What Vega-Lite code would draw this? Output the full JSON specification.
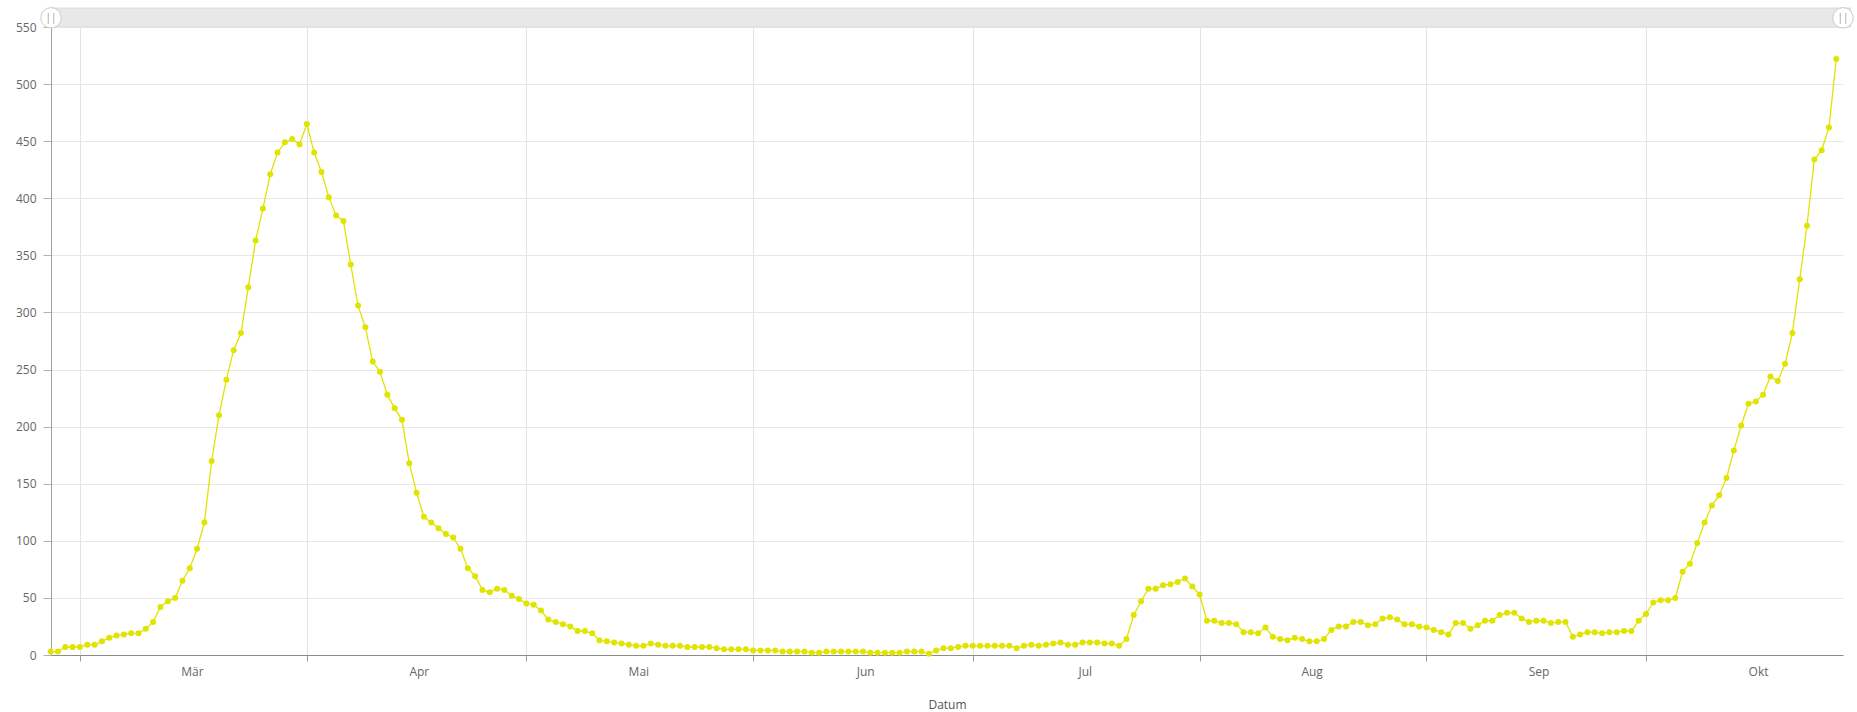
{
  "$schema": "https://vega.github.io/schema/vega-lite/v6.json",
  "autosize": "none",
  "padding": {"left": 51, "top": 27, "right": 14, "bottom": 57},
  "width": 1792,
  "height": 628,
  "background": "#ffffff",
  "config": {
    "view": {"stroke": null},
    "font": "Open Sans",
    "axis": {
      "labelFont": "Open Sans",
      "labelFontSize": 12,
      "labelColor": "#666666",
      "titleFont": "Open Sans",
      "titleFontSize": 12,
      "titleFontWeight": "normal",
      "titleColor": "#555555",
      "gridColor": "#e6e6e6",
      "gridWidth": 1
    }
  },
  "data": {
    "values": [
      {"Datum": "2020-02-26", "Wert": 3}, {"Datum": "2020-02-27", "Wert": 3}, {"Datum": "2020-02-28", "Wert": 7}, {"Datum": "2020-02-29", "Wert": 7},
      {"Datum": "2020-03-01", "Wert": 7}, {"Datum": "2020-03-02", "Wert": 9}, {"Datum": "2020-03-03", "Wert": 9}, {"Datum": "2020-03-04", "Wert": 12},
      {"Datum": "2020-03-05", "Wert": 15}, {"Datum": "2020-03-06", "Wert": 17}, {"Datum": "2020-03-07", "Wert": 18}, {"Datum": "2020-03-08", "Wert": 19},
      {"Datum": "2020-03-09", "Wert": 19}, {"Datum": "2020-03-10", "Wert": 23}, {"Datum": "2020-03-11", "Wert": 29}, {"Datum": "2020-03-12", "Wert": 42},
      {"Datum": "2020-03-13", "Wert": 47}, {"Datum": "2020-03-14", "Wert": 50}, {"Datum": "2020-03-15", "Wert": 65}, {"Datum": "2020-03-16", "Wert": 76},
      {"Datum": "2020-03-17", "Wert": 93}, {"Datum": "2020-03-18", "Wert": 116}, {"Datum": "2020-03-19", "Wert": 170}, {"Datum": "2020-03-20", "Wert": 210},
      {"Datum": "2020-03-21", "Wert": 241}, {"Datum": "2020-03-22", "Wert": 267}, {"Datum": "2020-03-23", "Wert": 282}, {"Datum": "2020-03-24", "Wert": 322},
      {"Datum": "2020-03-25", "Wert": 363}, {"Datum": "2020-03-26", "Wert": 391}, {"Datum": "2020-03-27", "Wert": 421}, {"Datum": "2020-03-28", "Wert": 440},
      {"Datum": "2020-03-29", "Wert": 449}, {"Datum": "2020-03-30", "Wert": 452}, {"Datum": "2020-03-31", "Wert": 447}, {"Datum": "2020-04-01", "Wert": 465},
      {"Datum": "2020-04-02", "Wert": 440}, {"Datum": "2020-04-03", "Wert": 423}, {"Datum": "2020-04-04", "Wert": 401}, {"Datum": "2020-04-05", "Wert": 385},
      {"Datum": "2020-04-06", "Wert": 380}, {"Datum": "2020-04-07", "Wert": 342}, {"Datum": "2020-04-08", "Wert": 306}, {"Datum": "2020-04-09", "Wert": 287},
      {"Datum": "2020-04-10", "Wert": 257}, {"Datum": "2020-04-11", "Wert": 248}, {"Datum": "2020-04-12", "Wert": 228}, {"Datum": "2020-04-13", "Wert": 216},
      {"Datum": "2020-04-14", "Wert": 206}, {"Datum": "2020-04-15", "Wert": 168}, {"Datum": "2020-04-16", "Wert": 142}, {"Datum": "2020-04-17", "Wert": 121},
      {"Datum": "2020-04-18", "Wert": 116}, {"Datum": "2020-04-19", "Wert": 111}, {"Datum": "2020-04-20", "Wert": 106}, {"Datum": "2020-04-21", "Wert": 103},
      {"Datum": "2020-04-22", "Wert": 93}, {"Datum": "2020-04-23", "Wert": 76}, {"Datum": "2020-04-24", "Wert": 69}, {"Datum": "2020-04-25", "Wert": 57},
      {"Datum": "2020-04-26", "Wert": 55}, {"Datum": "2020-04-27", "Wert": 58}, {"Datum": "2020-04-28", "Wert": 57}, {"Datum": "2020-04-29", "Wert": 52},
      {"Datum": "2020-04-30", "Wert": 49}, {"Datum": "2020-05-01", "Wert": 45}, {"Datum": "2020-05-02", "Wert": 44}, {"Datum": "2020-05-03", "Wert": 39},
      {"Datum": "2020-05-04", "Wert": 31}, {"Datum": "2020-05-05", "Wert": 29}, {"Datum": "2020-05-06", "Wert": 27}, {"Datum": "2020-05-07", "Wert": 25},
      {"Datum": "2020-05-08", "Wert": 21}, {"Datum": "2020-05-09", "Wert": 21}, {"Datum": "2020-05-10", "Wert": 19}, {"Datum": "2020-05-11", "Wert": 13},
      {"Datum": "2020-05-12", "Wert": 12}, {"Datum": "2020-05-13", "Wert": 11}, {"Datum": "2020-05-14", "Wert": 10}, {"Datum": "2020-05-15", "Wert": 9},
      {"Datum": "2020-05-16", "Wert": 8}, {"Datum": "2020-05-17", "Wert": 8}, {"Datum": "2020-05-18", "Wert": 10}, {"Datum": "2020-05-19", "Wert": 9},
      {"Datum": "2020-05-20", "Wert": 8}, {"Datum": "2020-05-21", "Wert": 8}, {"Datum": "2020-05-22", "Wert": 8}, {"Datum": "2020-05-23", "Wert": 7},
      {"Datum": "2020-05-24", "Wert": 7}, {"Datum": "2020-05-25", "Wert": 7}, {"Datum": "2020-05-26", "Wert": 7}, {"Datum": "2020-05-27", "Wert": 6},
      {"Datum": "2020-05-28", "Wert": 5}, {"Datum": "2020-05-29", "Wert": 5}, {"Datum": "2020-05-30", "Wert": 5}, {"Datum": "2020-05-31", "Wert": 5},
      {"Datum": "2020-06-01", "Wert": 4}, {"Datum": "2020-06-02", "Wert": 4}, {"Datum": "2020-06-03", "Wert": 4}, {"Datum": "2020-06-04", "Wert": 4},
      {"Datum": "2020-06-05", "Wert": 3}, {"Datum": "2020-06-06", "Wert": 3}, {"Datum": "2020-06-07", "Wert": 3}, {"Datum": "2020-06-08", "Wert": 3},
      {"Datum": "2020-06-09", "Wert": 2}, {"Datum": "2020-06-10", "Wert": 2}, {"Datum": "2020-06-11", "Wert": 3}, {"Datum": "2020-06-12", "Wert": 3},
      {"Datum": "2020-06-13", "Wert": 3}, {"Datum": "2020-06-14", "Wert": 3}, {"Datum": "2020-06-15", "Wert": 3}, {"Datum": "2020-06-16", "Wert": 3},
      {"Datum": "2020-06-17", "Wert": 2}, {"Datum": "2020-06-18", "Wert": 2}, {"Datum": "2020-06-19", "Wert": 2}, {"Datum": "2020-06-20", "Wert": 2},
      {"Datum": "2020-06-21", "Wert": 2}, {"Datum": "2020-06-22", "Wert": 3}, {"Datum": "2020-06-23", "Wert": 3}, {"Datum": "2020-06-24", "Wert": 3},
      {"Datum": "2020-06-25", "Wert": 1}, {"Datum": "2020-06-26", "Wert": 4}, {"Datum": "2020-06-27", "Wert": 6}, {"Datum": "2020-06-28", "Wert": 6},
      {"Datum": "2020-06-29", "Wert": 7}, {"Datum": "2020-06-30", "Wert": 8}, {"Datum": "2020-07-01", "Wert": 8}, {"Datum": "2020-07-02", "Wert": 8},
      {"Datum": "2020-07-03", "Wert": 8}, {"Datum": "2020-07-04", "Wert": 8}, {"Datum": "2020-07-05", "Wert": 8}, {"Datum": "2020-07-06", "Wert": 8},
      {"Datum": "2020-07-07", "Wert": 6}, {"Datum": "2020-07-08", "Wert": 8}, {"Datum": "2020-07-09", "Wert": 9}, {"Datum": "2020-07-10", "Wert": 8},
      {"Datum": "2020-07-11", "Wert": 9}, {"Datum": "2020-07-12", "Wert": 10}, {"Datum": "2020-07-13", "Wert": 11}, {"Datum": "2020-07-14", "Wert": 9},
      {"Datum": "2020-07-15", "Wert": 9}, {"Datum": "2020-07-16", "Wert": 11}, {"Datum": "2020-07-17", "Wert": 11}, {"Datum": "2020-07-18", "Wert": 11},
      {"Datum": "2020-07-19", "Wert": 10}, {"Datum": "2020-07-20", "Wert": 10}, {"Datum": "2020-07-21", "Wert": 8}, {"Datum": "2020-07-22", "Wert": 14},
      {"Datum": "2020-07-23", "Wert": 35}, {"Datum": "2020-07-24", "Wert": 47}, {"Datum": "2020-07-25", "Wert": 58}, {"Datum": "2020-07-26", "Wert": 58},
      {"Datum": "2020-07-27", "Wert": 61}, {"Datum": "2020-07-28", "Wert": 62}, {"Datum": "2020-07-29", "Wert": 64}, {"Datum": "2020-07-30", "Wert": 67},
      {"Datum": "2020-07-31", "Wert": 60}, {"Datum": "2020-08-01", "Wert": 53}, {"Datum": "2020-08-02", "Wert": 30}, {"Datum": "2020-08-03", "Wert": 30},
      {"Datum": "2020-08-04", "Wert": 28}, {"Datum": "2020-08-05", "Wert": 28}, {"Datum": "2020-08-06", "Wert": 27}, {"Datum": "2020-08-07", "Wert": 20},
      {"Datum": "2020-08-08", "Wert": 20}, {"Datum": "2020-08-09", "Wert": 19}, {"Datum": "2020-08-10", "Wert": 24}, {"Datum": "2020-08-11", "Wert": 16},
      {"Datum": "2020-08-12", "Wert": 14}, {"Datum": "2020-08-13", "Wert": 13}, {"Datum": "2020-08-14", "Wert": 15}, {"Datum": "2020-08-15", "Wert": 14},
      {"Datum": "2020-08-16", "Wert": 12}, {"Datum": "2020-08-17", "Wert": 12}, {"Datum": "2020-08-18", "Wert": 14}, {"Datum": "2020-08-19", "Wert": 22},
      {"Datum": "2020-08-20", "Wert": 25}, {"Datum": "2020-08-21", "Wert": 25}, {"Datum": "2020-08-22", "Wert": 29}, {"Datum": "2020-08-23", "Wert": 29},
      {"Datum": "2020-08-24", "Wert": 26}, {"Datum": "2020-08-25", "Wert": 27}, {"Datum": "2020-08-26", "Wert": 32}, {"Datum": "2020-08-27", "Wert": 33},
      {"Datum": "2020-08-28", "Wert": 31}, {"Datum": "2020-08-29", "Wert": 27}, {"Datum": "2020-08-30", "Wert": 27}, {"Datum": "2020-08-31", "Wert": 25},
      {"Datum": "2020-09-01", "Wert": 24}, {"Datum": "2020-09-02", "Wert": 22}, {"Datum": "2020-09-03", "Wert": 20}, {"Datum": "2020-09-04", "Wert": 18},
      {"Datum": "2020-09-05", "Wert": 28}, {"Datum": "2020-09-06", "Wert": 28}, {"Datum": "2020-09-07", "Wert": 23}, {"Datum": "2020-09-08", "Wert": 26},
      {"Datum": "2020-09-09", "Wert": 30}, {"Datum": "2020-09-10", "Wert": 30}, {"Datum": "2020-09-11", "Wert": 35}, {"Datum": "2020-09-12", "Wert": 37},
      {"Datum": "2020-09-13", "Wert": 37}, {"Datum": "2020-09-14", "Wert": 32}, {"Datum": "2020-09-15", "Wert": 29}, {"Datum": "2020-09-16", "Wert": 30},
      {"Datum": "2020-09-17", "Wert": 30}, {"Datum": "2020-09-18", "Wert": 28}, {"Datum": "2020-09-19", "Wert": 29}, {"Datum": "2020-09-20", "Wert": 29},
      {"Datum": "2020-09-21", "Wert": 16}, {"Datum": "2020-09-22", "Wert": 18}, {"Datum": "2020-09-23", "Wert": 20}, {"Datum": "2020-09-24", "Wert": 20},
      {"Datum": "2020-09-25", "Wert": 19}, {"Datum": "2020-09-26", "Wert": 20}, {"Datum": "2020-09-27", "Wert": 20}, {"Datum": "2020-09-28", "Wert": 21},
      {"Datum": "2020-09-29", "Wert": 21}, {"Datum": "2020-09-30", "Wert": 30}, {"Datum": "2020-10-01", "Wert": 36}, {"Datum": "2020-10-02", "Wert": 46},
      {"Datum": "2020-10-03", "Wert": 48}, {"Datum": "2020-10-04", "Wert": 48}, {"Datum": "2020-10-05", "Wert": 50}, {"Datum": "2020-10-06", "Wert": 73},
      {"Datum": "2020-10-07", "Wert": 80}, {"Datum": "2020-10-08", "Wert": 98}, {"Datum": "2020-10-09", "Wert": 116}, {"Datum": "2020-10-10", "Wert": 131},
      {"Datum": "2020-10-11", "Wert": 140}, {"Datum": "2020-10-12", "Wert": 155}, {"Datum": "2020-10-13", "Wert": 179}, {"Datum": "2020-10-14", "Wert": 201},
      {"Datum": "2020-10-15", "Wert": 220}, {"Datum": "2020-10-16", "Wert": 222}, {"Datum": "2020-10-17", "Wert": 228}, {"Datum": "2020-10-18", "Wert": 244},
      {"Datum": "2020-10-19", "Wert": 240}, {"Datum": "2020-10-20", "Wert": 255}, {"Datum": "2020-10-21", "Wert": 282}, {"Datum": "2020-10-22", "Wert": 329},
      {"Datum": "2020-10-23", "Wert": 376}, {"Datum": "2020-10-24", "Wert": 434}, {"Datum": "2020-10-25", "Wert": 442}, {"Datum": "2020-10-26", "Wert": 462},
      {"Datum": "2020-10-27", "Wert": 522}
    ],
    "format": {"parse": {"Datum": "date:'%Y-%m-%d'"}}
  },
  "layer": [
    {
      "mark": {"type": "line", "color": "#e0e400", "strokeWidth": 1.3},
      "encoding": {
        "x": {
          "field": "Datum",
          "type": "temporal",
          "title": "Datum",
          "scale": {"domain": [{"year": 2020, "month": 2, "date": 26, "hours": 1}, {"year": 2020, "month": 10, "date": 27, "hours": 22}], "nice": false},
          "axis": {
            "values": [
              {"year": 2020, "month": 3, "date": 1}, {"year": 2020, "month": 4, "date": 1}, {"year": 2020, "month": 5, "date": 1},
              {"year": 2020, "month": 6, "date": 1}, {"year": 2020, "month": 7, "date": 1}, {"year": 2020, "month": 8, "date": 1},
              {"year": 2020, "month": 9, "date": 1}, {"year": 2020, "month": 10, "date": 1}
            ],
            "labelExpr": "['Jan','Feb','Mär','Apr','Mai','Jun','Jul','Aug','Sep','Okt','Nov','Dez'][month(datum.value)]",
            "labelOffset": 112,
            "labelFlush": false,
            "labelOverlap": false,
            "labelPadding": 5,
            "tickSize": 6,
            "tickColor": "#999999",
            "domainColor": "#8c8c8c",
            "grid": true,
            "gridColor": "#e3e3e3",
            "titlePadding": 22
          }
        },
        "y": {
          "field": "Wert",
          "type": "quantitative",
          "title": null,
          "scale": {"domain": [0, 550], "nice": false},
          "axis": {
            "values": [0, 50, 100, 150, 200, 250, 300, 350, 400, 450, 500, 550],
            "tickSize": 8,
            "tickColor": "#b0b0b0",
            "labelPadding": 7,
            "domainColor": "#a0a0a0",
            "grid": true,
            "gridColor": "#e8e8e8"
          }
        }
      }
    },
    {
      "mark": {"type": "point", "shape": "circle", "filled": true, "color": "#e0e400", "size": 36, "opacity": 1},
      "encoding": {
        "x": {"field": "Datum", "type": "temporal", "title": "Datum"},
        "y": {"field": "Wert", "type": "quantitative", "title": null}
      }
    },
    {
      "data": {"values": [{"Bereich": "Zoom"}]},
      "mark": {"type": "rect", "color": "#e8e8e8", "stroke": "#dcdcdc", "strokeWidth": 1},
      "encoding": {
        "x": {"datum": {"year": 2020, "month": 2, "date": 26, "hours": 1}, "type": "temporal", "title": "Datum"},
        "x2": {"datum": {"year": 2020, "month": 10, "date": 28, "hours": 23}},
        "y": {"datum": 550, "type": "quantitative", "title": null},
        "y2": {"datum": 566.6}
      }
    },
    {
      "data": {"values": [{"Griff": "links"}]},
      "mark": {"type": "point", "shape": "circle", "filled": true, "fill": "#ffffff", "stroke": "#cccccc", "strokeWidth": 1, "size": 420, "opacity": 1},
      "encoding": {
        "x": {"datum": {"year": 2020, "month": 2, "date": 26, "hours": 1}, "type": "temporal", "title": "Datum"},
        "y": {"datum": 558, "type": "quantitative", "title": null}
      }
    },
    {
      "data": {"values": [{"Griff": "rechts"}]},
      "mark": {"type": "point", "shape": "circle", "filled": true, "fill": "#ffffff", "stroke": "#cccccc", "strokeWidth": 1, "size": 420, "opacity": 1},
      "encoding": {
        "x": {"datum": {"year": 2020, "month": 10, "date": 27, "hours": 22}, "type": "temporal", "title": "Datum"},
        "y": {"datum": 558, "type": "quantitative", "title": null}
      }
    },
    {
      "data": {"values": [{"Griff": "links"}]},
      "mark": {"type": "text", "text": "||", "fontSize": 10, "color": "#999999", "baseline": "middle", "align": "center"},
      "encoding": {
        "x": {"datum": {"year": 2020, "month": 2, "date": 26, "hours": 1}, "type": "temporal", "title": "Datum"},
        "y": {"datum": 558, "type": "quantitative", "title": null}
      }
    },
    {
      "data": {"values": [{"Griff": "rechts"}]},
      "mark": {"type": "text", "text": "||", "fontSize": 10, "color": "#999999", "baseline": "middle", "align": "center"},
      "encoding": {
        "x": {"datum": {"year": 2020, "month": 10, "date": 27, "hours": 22}, "type": "temporal", "title": "Datum"},
        "y": {"datum": 558, "type": "quantitative", "title": null}
      }
    }
  ]
}
